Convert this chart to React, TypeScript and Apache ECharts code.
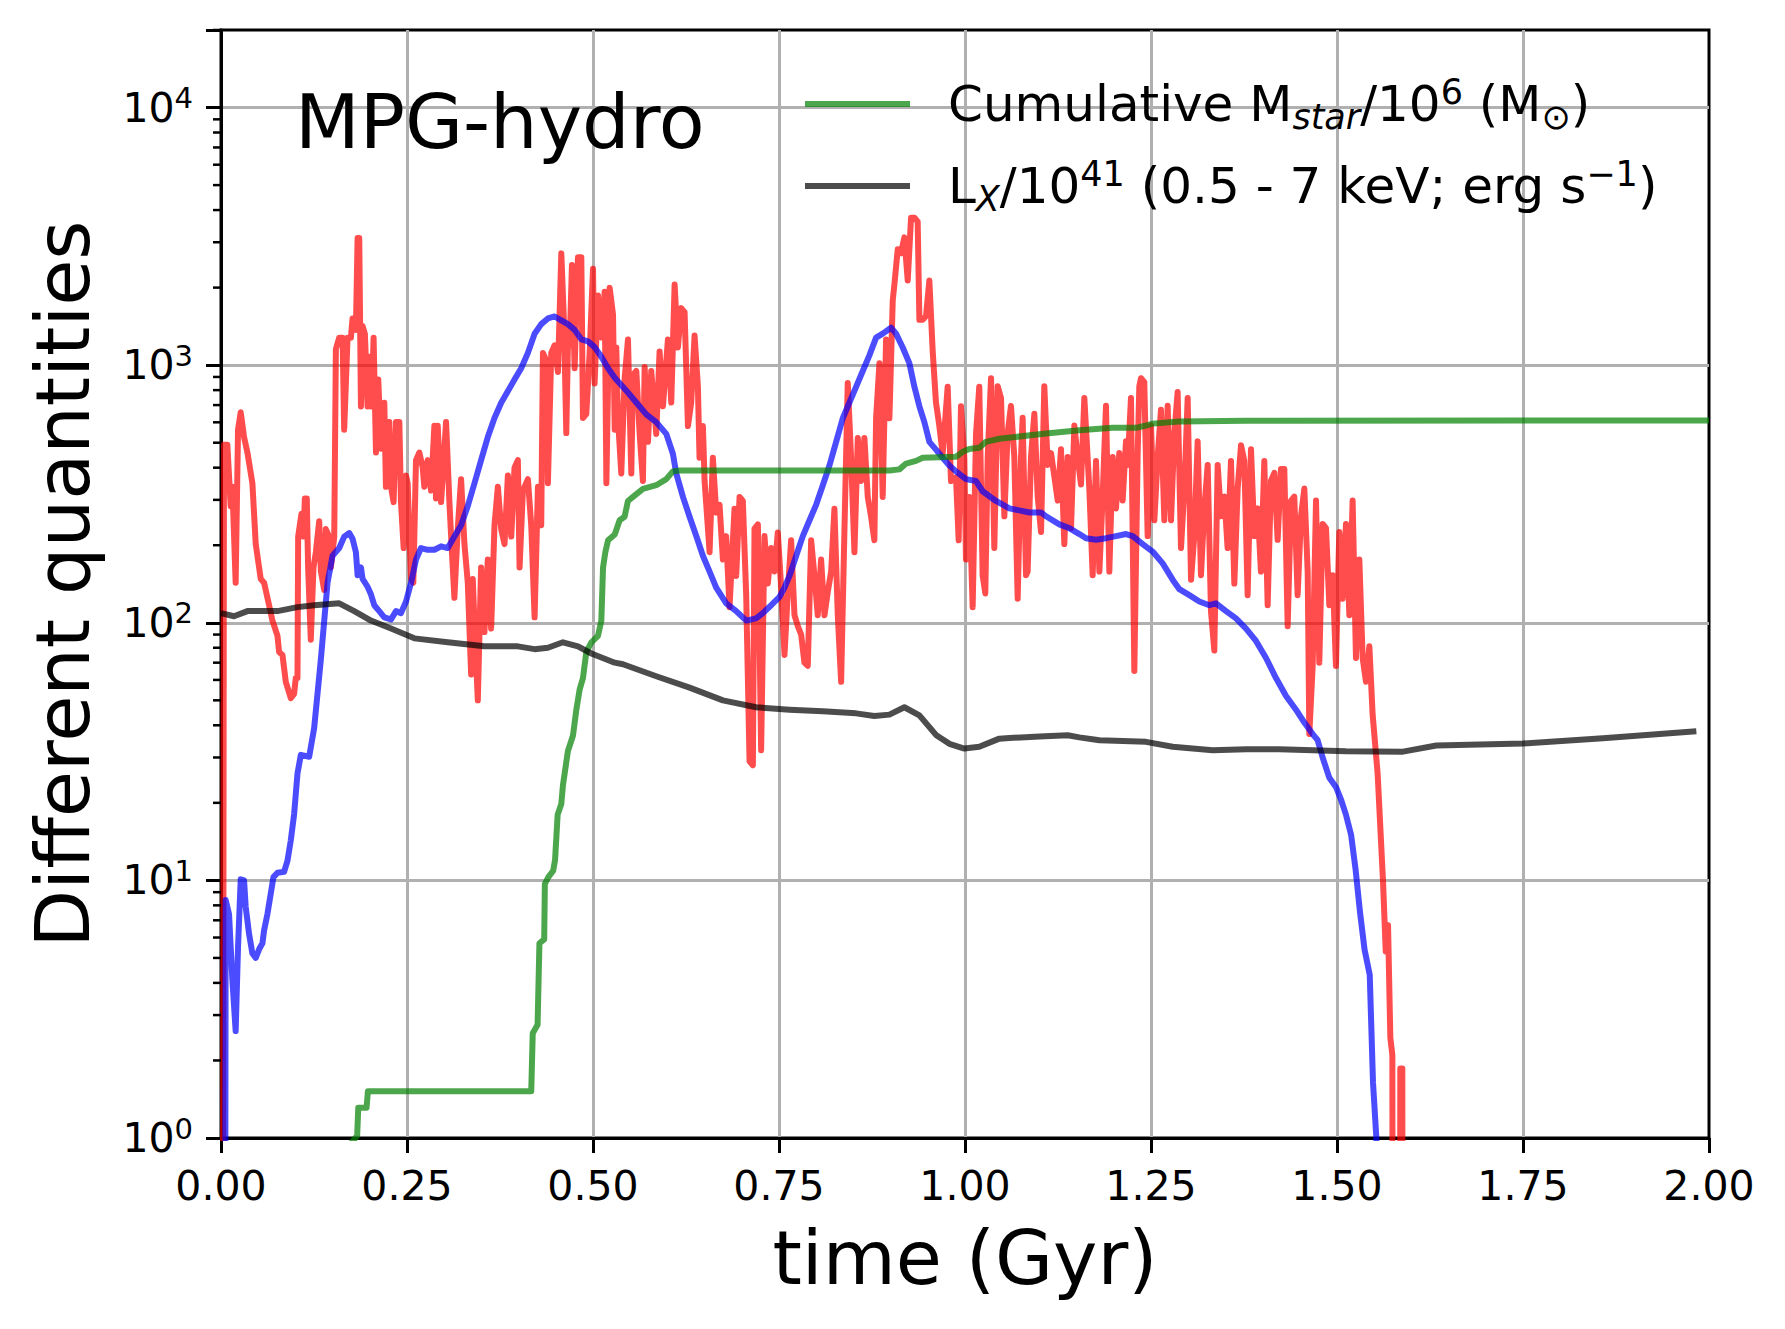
import React, { useEffect, useRef } from "react";
import * as echarts from "echarts";

const FONT = "DejaVu Sans";

// ---- axis ticks ----
const X_TICK_STEP = 0.25;
const Y_MINOR_TICKS = [
  2, 3, 4, 5, 6, 7, 8, 9,
  20, 30, 40, 50, 60, 70, 80, 90,
  200, 300, 400, 500, 600, 700, 800, 900,
  2000, 3000, 4000, 5000, 6000, 7000, 8000, 9000,
  20000,
];

// ---- red curve (no legend entry) ----
const RED_T = [
  0.002, 0.004, 0.0085, 0.013, 0.0153, 0.0197, 0.0229, 0.0265, 0.031, 0.0355, 0.0422, 0.0467, 0.0534, 0.0579,
  0.0646, 0.0691, 0.0759, 0.0781, 0.0826, 0.0871, 0.0938, 0.0983, 0.1005, 0.1028, 0.1037, 0.1082, 0.1109,
  0.1127, 0.1153, 0.1171, 0.1207, 0.1243, 0.1275, 0.132, 0.1342, 0.1387, 0.1409, 0.1454, 0.1477, 0.1522,
  0.1544, 0.1589, 0.1634, 0.1656, 0.1701, 0.1746, 0.1768, 0.1813, 0.1836, 0.1858, 0.1881, 0.1903, 0.1934,
  0.197, 0.1993, 0.2024, 0.2051, 0.2083, 0.2114, 0.215, 0.2195, 0.2217, 0.2262, 0.2285, 0.232, 0.2352,
  0.2397, 0.2419, 0.2455, 0.2487, 0.2509, 0.2554, 0.2585, 0.2621, 0.2666, 0.2711, 0.2733, 0.2778, 0.2823,
  0.2868, 0.289, 0.2913, 0.2958, 0.3025, 0.307, 0.3101, 0.3137, 0.3182, 0.3227, 0.3272, 0.3317, 0.3362,
  0.3384, 0.3416, 0.3452, 0.3496, 0.3541, 0.3586, 0.3631, 0.3676, 0.3721, 0.3766, 0.3811, 0.3856, 0.3901,
  0.3945, 0.399, 0.4013, 0.4058, 0.4125, 0.417, 0.4215, 0.426, 0.4304, 0.4327, 0.4372, 0.4394, 0.4439,
  0.4484, 0.4529, 0.4574, 0.461, 0.4641, 0.4663, 0.4686, 0.4717, 0.4753, 0.4798, 0.4843, 0.4865, 0.491,
  0.4955, 0.5, 0.5022, 0.5067, 0.5112, 0.5157, 0.518, 0.5224, 0.5269, 0.5292, 0.5313, 0.5336, 0.538,
  0.5425, 0.547, 0.5515, 0.5537, 0.5582, 0.5627, 0.5671, 0.5694, 0.5739, 0.5783, 0.585, 0.5895, 0.594,
  0.6007, 0.6052, 0.6097, 0.6141, 0.6186, 0.6231, 0.6276, 0.632, 0.6365, 0.641, 0.6432, 0.6477, 0.65,
  0.6567, 0.6611, 0.6656, 0.6701, 0.6746, 0.679, 0.6835, 0.6902, 0.6925, 0.697, 0.7014, 0.7059, 0.7104,
  0.7149, 0.7171, 0.7216, 0.726, 0.7305, 0.735, 0.7395, 0.744, 0.7484, 0.7529, 0.7574, 0.7619, 0.7663,
  0.7708, 0.7753, 0.7798, 0.7842, 0.7887, 0.7932, 0.7977, 0.8021, 0.8066, 0.8111, 0.8156, 0.8201, 0.8245,
  0.829, 0.8335, 0.838, 0.8424, 0.8469, 0.8514, 0.8559, 0.8603, 0.8648, 0.8693, 0.8738, 0.8782, 0.8805,
  0.885, 0.8894, 0.8939, 0.8984, 0.9029, 0.9051, 0.9096, 0.914, 0.9185, 0.923, 0.9275, 0.932, 0.9364,
  0.9387, 0.9431, 0.9476, 0.9521, 0.9566, 0.961, 0.9655, 0.97, 0.9767, 0.9812, 0.9879, 0.9915, 0.9946,
  0.9991, 1.0013, 1.0058, 1.0103, 1.0148, 1.0192, 1.0237, 1.0273, 1.0305, 1.035, 1.0394, 1.0439, 1.0484,
  1.0529, 1.0573, 1.0618, 1.0663, 1.0708, 1.0753, 1.0775, 1.082, 1.0842, 1.0887, 1.0932, 1.0977, 1.1022,
  1.1066, 1.1111, 1.1156, 1.1201, 1.1246, 1.129, 1.1335, 1.138, 1.1425, 1.147, 1.1514, 1.1559, 1.1604,
  1.1671, 1.1716, 1.1761, 1.1806, 1.185, 1.1895, 1.194, 1.1985, 1.203, 1.2074, 1.2119, 1.2164, 1.2186,
  1.2231, 1.2276, 1.2321, 1.2343, 1.2366, 1.241, 1.2455, 1.25, 1.2545, 1.259, 1.2634, 1.2679, 1.2724,
  1.2769, 1.2814, 1.2858, 1.2903, 1.2948, 1.2993, 1.3038, 1.3082, 1.3127, 1.3172, 1.3217, 1.3262, 1.3306,
  1.3351, 1.3396, 1.3441, 1.3486, 1.353, 1.3575, 1.362, 1.3665, 1.371, 1.3754, 1.3799, 1.3844, 1.3889,
  1.3934, 1.3978, 1.4023, 1.4068, 1.4113, 1.4158, 1.4202, 1.4247, 1.4292, 1.4337, 1.4382, 1.4426, 1.4471,
  1.4516, 1.4561, 1.4606, 1.4628, 1.4673, 1.4718, 1.4762, 1.4807, 1.4852, 1.4897, 1.4942, 1.4986, 1.5031,
  1.5076, 1.5121, 1.5166, 1.521, 1.5255, 1.53, 1.5345, 1.539, 1.5435, 1.5479, 1.5546, 1.5618, 1.5655,
  1.5686, 1.5717, 1.5744, 1.5753, 1.5843, 1.5851, 1.5878, 1.5885,
];
const RED_V = [
  0.01, 491, 491, 284, 337, 143, 562, 656, 526, 458, 348, 202, 148, 143,
  117, 102, 89, 77, 75, 59, 51, 53, 61, 61, 216, 265, 216,
  304, 304, 164, 86, 164, 188, 248, 159, 134, 231, 216, 164, 216,
  1154, 1279, 1279, 562, 1279, 1279, 1518, 1371, 3113, 3113, 691, 1418, 1324,
  691, 1078, 691, 1279, 458, 879, 474, 715, 337, 602, 337, 294, 602,
  602, 294, 195, 373, 348, 148, 143, 428, 458, 400, 337, 428, 326,
  582, 304, 582, 294, 602, 294, 195, 125, 231, 361, 202, 143, 63,
  148, 86, 50, 164, 92, 176, 95, 239, 337, 231, 202, 373, 216,
  400, 428, 164, 326, 361, 239, 105, 337, 239, 1116, 1042, 348, 1116,
  1194, 940, 2716, 1466, 545, 1194, 1194, 2449, 973, 2624, 2624, 624, 646,
  1116, 2366, 849, 1864, 1279, 1928, 348, 1996, 1571, 562, 1171, 622, 380,
  885, 1257, 380, 916, 949, 541, 355, 983, 504, 949, 541, 1131, 692,
  1257, 716, 2056, 1171, 1665, 1607, 580, 716, 1303, 824, 437, 580, 355,
  188, 437, 268, 287, 176, 217, 115, 277, 152, 308, 297, 128, 29,
  28, 232, 241, 32, 217, 142, 195, 158, 224, 137, 75, 132, 209,
  107, 97, 90, 70, 68, 209, 152, 107, 176, 107, 132, 158, 277,
  107, 59, 232, 853, 437, 188, 522, 355, 522, 308, 258, 209, 622,
  1018, 308, 1257, 622, 1786, 2056, 2820, 2723, 3133, 2130, 3738, 3738, 3607,
  1499, 1499, 1552, 2130, 1131, 716, 580, 453, 824, 355, 367, 209, 692,
  437, 176, 308, 115, 541, 824, 153, 130, 440, 890, 195, 829, 746,
  259, 543, 695, 440, 124, 440, 625, 153, 158, 440, 648, 309, 225,
  829, 410, 456, 369, 298, 472, 202, 440, 233, 583, 440, 344, 746,
  332, 153, 425, 158, 309, 695, 158, 440, 278, 456, 298, 506, 410,
  746, 65, 456, 829, 890, 859, 217, 583, 250, 440, 671, 250, 695,
  250, 543, 787, 195, 332, 746, 147, 217, 506, 153, 278, 410, 111,
  78, 410, 259, 309, 195, 425, 142, 332, 489, 425, 128, 472, 217,
  278, 158, 425, 117, 356, 382, 210, 395, 395, 97, 298, 309, 128,
  259, 332, 158, 37, 68, 298, 70, 242, 233, 117, 153, 68, 225,
  124, 242, 107, 298, 73, 176, 73, 59, 81, 44, 26, 10, 5.3,
  6.7, 2.45, 2.1, 0.01, 0.01, 1.86, 1.86, 0.01,
];

// ---- blue curve (no legend entry) ----
const BLUE_T = [
  0.005, 0.0063, 0.0108, 0.0153, 0.0197, 0.0229, 0.0265, 0.031, 0.0332, 0.0377, 0.0422, 0.0467, 0.0512,
  0.0557, 0.0579, 0.0624, 0.0669, 0.0705, 0.0759, 0.0848, 0.0893, 0.0938, 0.0983, 0.1028, 0.1073, 0.1185,
  0.1252, 0.1342, 0.1432, 0.1499, 0.1589, 0.1656, 0.1724, 0.1768, 0.1813, 0.1836, 0.1881, 0.1903, 0.197,
  0.2015, 0.206, 0.2127, 0.2195, 0.2285, 0.2352, 0.2419, 0.2487, 0.2554, 0.2621, 0.2688, 0.2778, 0.2868,
  0.2958, 0.3048, 0.3137, 0.3227, 0.3317, 0.3407, 0.3496, 0.3586, 0.3676, 0.3766, 0.3855, 0.3945, 0.4035,
  0.4125, 0.4215, 0.4304, 0.4394, 0.4484, 0.4574, 0.4663, 0.4753, 0.4843, 0.4933, 0.5022, 0.5112, 0.5202,
  0.5292, 0.5448, 0.5582, 0.5716, 0.585, 0.5985, 0.6074, 0.6119, 0.6209, 0.6298, 0.6388, 0.6477, 0.6567,
  0.6656, 0.6791, 0.6925, 0.7059, 0.7193, 0.7283, 0.7395, 0.7507, 0.7574, 0.7641, 0.7731, 0.782, 0.791,
  0.7999, 0.8089, 0.8178, 0.8268, 0.8357, 0.8447, 0.8536, 0.8626, 0.8715, 0.8805, 0.8894, 0.9006, 0.9073,
  0.9163, 0.9252, 0.932, 0.9387, 0.9454, 0.9521, 0.961, 0.97, 0.979, 0.9879, 1.0013, 1.0148, 1.0237,
  1.0416, 1.0596, 1.073, 1.0865, 1.1022, 1.1089, 1.1268, 1.1402, 1.1537, 1.1626, 1.1761, 1.1895, 1.203,
  1.2164, 1.2254, 1.2388, 1.2522, 1.2657, 1.2791, 1.2881, 1.3015, 1.315, 1.3284, 1.3374, 1.3508, 1.3642,
  1.3777, 1.3911, 1.4046, 1.418, 1.4315, 1.4449, 1.4561, 1.4673, 1.474, 1.4807, 1.4897, 1.4987, 1.5054,
  1.512, 1.519, 1.525, 1.531, 1.537, 1.544, 1.5484, 1.5529, 1.555,
];
const BLUE_V = [
  0.01, 8.4, 7.4, 4.1, 2.6, 5.5, 10.1, 10, 7.9, 6.2, 5.2, 5.0, 5.4,
  5.7, 6.4, 7.4, 8.9, 10.3, 10.7, 10.8, 11.9, 14.3, 18.1, 26, 30.7, 30.2,
  39, 72, 143, 182, 195, 216, 223, 212, 188, 153, 164, 148, 138,
  129, 117, 111, 105, 103, 111, 109, 121, 143, 176, 195, 192, 192,
  198, 195, 216, 239, 284, 348, 428, 526, 624, 715, 792, 879, 973,
  1116, 1324, 1443, 1518, 1545, 1493, 1443, 1371, 1259, 1237, 1175, 1078, 973,
  894, 796, 716, 644, 601, 541, 453, 380, 308, 258, 217, 182, 158,
  137, 119, 111, 102, 104, 109, 117, 126, 137, 152, 182, 217, 250,
  287, 342, 408, 504, 622, 716, 824, 949, 1092, 1279, 1325, 1397, 1325,
  1171, 1018, 824, 692, 601, 504, 470, 437, 408, 387, 361, 355, 324,
  297, 278, 273, 268, 268, 259, 241, 233, 221, 213, 210, 213, 217,
  221, 217, 202, 189, 170, 147, 135, 128, 121, 117, 119, 111, 104,
  95, 85, 73, 61, 52, 46, 41, 37, 35, 30, 25, 23, 20.6,
  18, 15, 11, 7.5, 5.4, 4.3, 1.64, 1.0, 0.01,
];

// ---- green: Cumulative M_star / 1e6 ----
const GREEN_T = [
  0.174, 0.183, 0.1845, 0.1956, 0.1975, 0.417, 0.419, 0.4255, 0.428, 0.4344, 0.4353, 0.44, 0.4465,
  0.449, 0.4525, 0.4574, 0.4596, 0.4663, 0.4731, 0.4776, 0.482, 0.4865, 0.491, 0.4978, 0.5067, 0.5112,
  0.5135, 0.5166, 0.5202, 0.5292, 0.5358, 0.5425, 0.547, 0.5537, 0.5671, 0.585, 0.5985, 0.6074, 0.6164,
  0.8984, 0.9118, 0.9208, 0.9342, 0.9431, 0.9879, 0.9969, 1.0058, 1.0192, 1.0282, 1.0461, 1.0641, 1.1089,
  1.1537, 1.1985, 1.2298, 1.2433, 1.2522, 1.2881, 1.3777, 2.0,
];
const GREEN_V = [
  0.95, 1.02, 1.31, 1.31, 1.52, 1.52, 2.55, 2.75, 5.7, 5.9, 9.7, 10.3, 10.9,
  12, 18, 19.8, 23.4, 31.8, 36.5, 46, 55, 61, 77, 84, 89, 102,
  164, 188, 209, 220, 250, 258, 297, 308, 331, 342, 361, 387, 390,
  390, 394, 415, 425, 437, 441, 461, 473, 478, 504, 518, 525, 543,
  559, 571, 571, 583, 593, 604, 608, 610,
];

// ---- black: L_X / 1e41 ----
const BLACK_T = [
  0, 0.0175, 0.0355, 0.0759, 0.1028, 0.1252, 0.1589, 0.1791, 0.2015, 0.2285, 0.2599, 0.3048, 0.3541,
  0.399, 0.4215, 0.4394, 0.4596, 0.4798, 0.4978, 0.5292, 0.5403, 0.585, 0.6298, 0.6746, 0.7193, 0.7641,
  0.8089, 0.8536, 0.8782, 0.8984, 0.9185, 0.9387, 0.961, 0.979, 0.9991, 1.0192, 1.0461, 1.0596, 1.0999,
  1.138, 1.1537, 1.1806, 1.2433, 1.2791, 1.3329, 1.3777, 1.4225, 1.4673, 1.5121, 1.5887, 1.6335, 1.75,
  1.8575, 1.983,
];
const BLACK_V = [
  109, 106, 111, 111, 115, 117, 119, 111, 102, 95, 87, 84, 81,
  81, 79, 80, 84, 81, 76, 70, 69, 62, 56, 50, 47, 46,
  45.3, 44.5, 43.5, 44, 47, 43.7, 36.7, 33.9, 32.5, 33, 35.5, 35.7, 36.2,
  36.6, 35.9, 35, 34.5, 33, 32, 32.3, 32.3, 32, 31.7, 31.6, 33.4, 34,
  35.6, 37.9,
];

const LEGEND_NAMES = ["Mstar", "LX"];

function pairs(t: number[], v: number[]) {
  return t.map((x, i) => [x, v[i]]);
}

function lineSeries(name: string, t: number[], v: number[], color: string) {
  return {
    type: "line",
    name,
    data: pairs(t, v),
    showSymbol: false,
    symbol: "none",
    clip: true,
    lineStyle: { color, width: 6, join: "round" },
    itemStyle: { color },
    emphasis: { disabled: true },
  };
}

export default function App() {
  const ref = useRef<HTMLDivElement>(null);

  useEffect(() => {
    if (!ref.current) return;
    const chart = echarts.init(ref.current, null, { renderer: "svg" });

    const option: any = {
      animation: false,
      backgroundColor: "#ffffff",
      textStyle: { fontFamily: FONT },
      grid: {
        left: 221,
        right: 76,
        top: 30,
        bottom: 191,
        show: true,
        borderColor: "#000",
        borderWidth: 3,
        backgroundColor: "transparent",
      },
      xAxis: {
        type: "value",
        min: 0,
        max: 2,
        interval: X_TICK_STEP,
        name: "time (Gyr)",
        nameLocation: "middle",
        nameGap: 82,
        nameTextStyle: { fontSize: 75, color: "#000", fontFamily: FONT },
        axisLine: { show: true, onZero: false, lineStyle: { color: "#000", width: 3 } },
        axisTick: { show: true, length: 15, lineStyle: { color: "#000", width: 3 } },
        axisLabel: {
          fontSize: 41,
          color: "#000",
          fontFamily: FONT,
          margin: 27,
          formatter: (v: number) => v.toFixed(2),
        },
        splitLine: {
          show: true,
          showMinLine: false,
          showMaxLine: false,
          lineStyle: { color: "#b0b0b0", width: 3 },
        },
      },
      yAxis: {
        type: "log",
        logBase: 10,
        min: 1,
        max: 20000,
        name: "Different quantities",
        nameLocation: "middle",
        nameGap: 121,
        nameRotate: 90,
        nameTextStyle: { fontSize: 75, color: "#000", fontFamily: FONT },
        axisLine: { show: true, onZero: false, lineStyle: { color: "#000", width: 3 } },
        axisTick: { show: true, length: 15, lineStyle: { color: "#000", width: 3 } },
        axisLabel: {
          color: "#000",
          margin: 28,
          formatter: (v: number) => {
            const e = Math.round(Math.log10(v));
            if (Math.abs(v - Math.pow(10, e)) > 1e-6 * v) return "";
            return `{b|10}{s|${e}}`;
          },
          rich: {
            b: { fontSize: 41, lineHeight: 48, fontFamily: FONT, color: "#000" },
            s: { fontSize: 29, lineHeight: 26, fontFamily: FONT, color: "#000", verticalAlign: "top" },
          },
        },
        splitLine: {
          show: true,
          showMinLine: false,
          showMaxLine: false,
          lineStyle: { color: "#b0b0b0", width: 3 },
        },
      },
      legend: {
        orient: "vertical",
        left: 805,
        top: 74,
        padding: 0,
        itemGap: 22,
        itemWidth: 105,
        itemHeight: 6,
        icon: "rect",
        selectedMode: false,
        data: LEGEND_NAMES,
        formatter: (name: string) =>
          name === "Mstar"
            ? "{n|Cumulative M}{sub|star}{n|/10}{sup|6}{n| (M}{sub2|⊙}{n|)}"
            : "{n|L}{sub|X}{n|/10}{sup|41}{n| (0.5 - 7 keV; erg s}{sup|−1}{n|)}",
        textStyle: {
          padding: [0, 0, 0, 33],
          color: "#000",
          fontFamily: FONT,
          fontSize: 50,
          lineHeight: 60,
          rich: {
            n: { fontSize: 50, lineHeight: 60, fontFamily: FONT, color: "#000" },
            sub: {
              fontSize: 35,
              lineHeight: 37,
              fontFamily: FONT,
              fontStyle: "italic",
              color: "#000",
              verticalAlign: "bottom",
            },
            sub2: { fontSize: 35, lineHeight: 37, fontFamily: FONT, color: "#000", verticalAlign: "bottom" },
            sup: { fontSize: 35, lineHeight: 33, fontFamily: FONT, color: "#000", verticalAlign: "top" },
          },
        },
      },
      graphic: [
        {
          type: "text",
          x: 295,
          y: 122,
          z: 20,
          style: {
            text: "MPG-hydro",
            fontSize: 75,
            fontFamily: FONT,
            fill: "#000",
            align: "left",
            verticalAlign: "middle",
          },
        },
      ],
      series: [
        lineSeries("SFR", RED_T, RED_V, "rgba(255,0,0,0.7)"),
        lineSeries("Mgas", BLUE_T, BLUE_V, "rgba(0,0,255,0.7)"),
        lineSeries("Mstar", GREEN_T, GREEN_V, "rgba(0,128,0,0.7)"),
        lineSeries("LX", BLACK_T, BLACK_V, "rgba(0,0,0,0.7)"),
        {
          type: "custom",
          name: "yMinorTicks",
          silent: true,
          clip: false,
          z: 5,
          data: Y_MINOR_TICKS.map((v) => [0, v]),
          renderItem: (_params: any, api: any) => {
            const p = api.coord([api.value(0), api.value(1)]);
            return {
              type: "line",
              shape: { x1: p[0] - 8, y1: p[1], x2: p[0], y2: p[1] },
              style: { stroke: "#000", lineWidth: 2.5 },
            };
          },
        },
      ],
    };

    chart.setOption(option);
    return () => chart.dispose();
  }, []);

  return (
    <div
      ref={ref}
      style={{ position: "absolute", left: 0, top: 0, width: 1785, height: 1329, background: "#fff" }}
    />
  );
}
